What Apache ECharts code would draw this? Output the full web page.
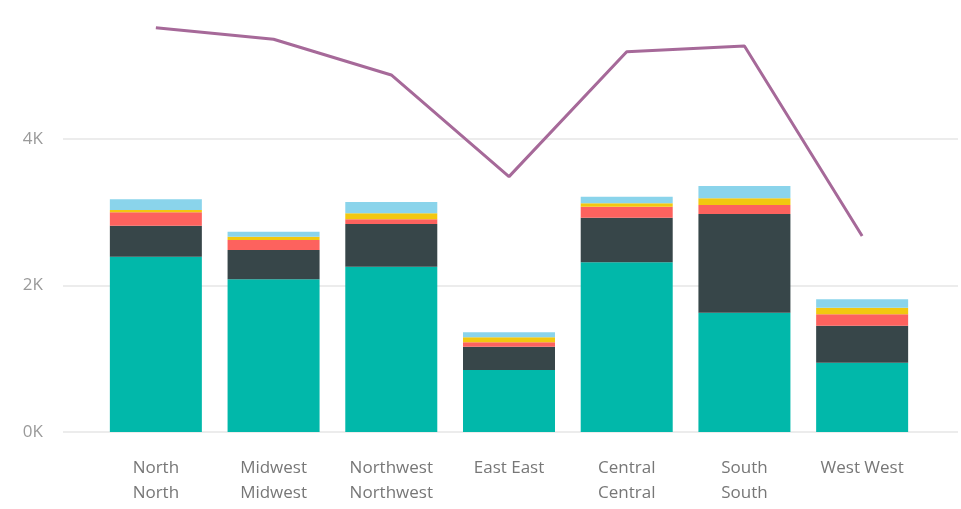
<!DOCTYPE html>
<html>
<head>
<meta charset="utf-8">
<script src="https://cdn.jsdelivr.net/npm/echarts@6/dist/echarts.min.js"></script>
<style>
html,body{margin:0;padding:0;background:#fff;}
#c{width:961px;height:509px;}
</style>
</head>
<body>
<div id="c"></div>
<script>
const categories = ['North\nNorth','Midwest\nMidwest','Northwest\nNorthwest','East East','Central\nCentral','South\nSouth','West West'];
const seriesTeal   = [2393, 2085, 2257, 846, 2317, 1629, 946];
const seriesDark   = [423, 400, 583, 319, 609, 1347, 505];
const seriesRed    = [183, 136, 63, 59, 150, 123, 156];
const seriesYellow = [32, 45, 82, 69, 46, 91, 90];
const seriesBlue   = [146, 68, 155, 68, 90, 168, 115];
const lineValues   = [5520, 5361, 4874, 3486, 5192, 5270, 2676];
const yMin = 0, yMax = 6000, yInterval = 2000;

const font = '"Segoe UI", "Open Sans", "Noto Sans", sans-serif';
const chart = echarts.init(document.getElementById('c'));
const barSeries = (name, data, color) => ({
  name, type: 'bar', stack: 'total', data, xAxisIndex: 1, yAxisIndex: 1,
  barWidth: 92, itemStyle: { color }, emphasis: { disabled: true }
});
chart.setOption({
  animation: false,
  grid: [
    { left: 63, right: 3, top: -7.5, bottom: 77, outerBoundsMode: 'none', containLabel: false },
    { left: 97, right: 40, top: -7.5, bottom: 77, outerBoundsMode: 'none', containLabel: false }
  ],
  xAxis: [
    { type: 'value', gridIndex: 0, show: false, min: 0, max: 1 },
    { type: 'category', gridIndex: 1, data: categories,
      axisLine: { show: false }, axisTick: { show: false },
      axisLabel: { color: '#777', fontFamily: font, fontSize: 17, lineHeight: 25.5, margin: 23, interval: 0 } }
  ],
  yAxis: [
    { type: 'value', gridIndex: 0, min: yMin, max: yMax, interval: yInterval,
      axisLine: { show: false }, axisTick: { show: false },
      axisLabel: { color: '#9a9a9a', fontFamily: font, fontSize: 17, margin: 20, showMaxLabel: false,
        formatter: v => (v / 1000) + 'K' },
      splitLine: { lineStyle: { color: '#e6e6e6', width: 1.5 } } },
    { type: 'value', gridIndex: 1, min: yMin, max: yMax, interval: yInterval, show: false,
      splitLine: { show: false } }
  ],
  series: [
    barSeries('A', seriesTeal, '#01B8AA'),
    barSeries('B', seriesDark, '#374649'),
    barSeries('C', seriesRed, '#FD625E'),
    barSeries('D', seriesYellow, '#F2C80F'),
    barSeries('E', seriesBlue, '#8AD4EB'),
    { name: 'Line', type: 'line', data: lineValues, xAxisIndex: 1, yAxisIndex: 1,
      showSymbol: false, clip: false, lineStyle: { color: '#A66999', width: 3 },
      itemStyle: { color: '#A66999' }, emphasis: { disabled: true } }
  ]
});
</script>
</body>
</html>
